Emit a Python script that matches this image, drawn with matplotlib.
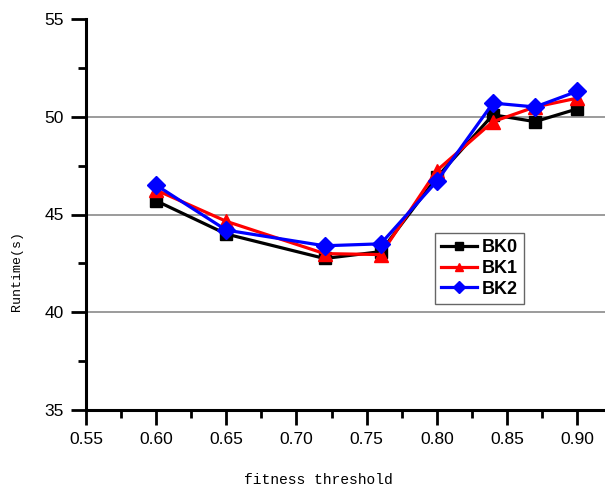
import matplotlib
matplotlib.use("Agg")
import matplotlib.pyplot as plt
from matplotlib.ticker import MultipleLocator, FormatStrFormatter

thresholds = [0.60, 0.65, 0.72, 0.76, 0.80, 0.84, 0.87, 0.90]
bk0 = [45.7, 44.0, 42.75, 43.1, 46.9, 50.1, 49.75, 50.4]
bk1 = [46.25, 44.65, 43.0, 42.95, 47.25, 49.75, 50.5, 50.95]
bk2 = [46.5, 44.2, 43.4, 43.5, 46.7, 50.7, 50.5, 51.3]
series_names = ["BK0", "BK1", "BK2"]

fig = plt.figure(figsize=(6.05, 4.92), dpi=100)
ax = fig.add_axes([86 / 605, 1 - 410 / 492, 1 - 86 / 605, (410 - 19) / 492])

styles = [
    dict(color="black", marker="s", markersize=9),
    dict(color="red", marker="^", markersize=10),
    dict(color="blue", marker="D", markersize=9),
]
for name, vals, st in zip(series_names, [bk0, bk1, bk2], styles):
    ax.plot(thresholds, vals, label=name, linewidth=2.3, **st)

ax.set_xlim(0.55, 0.55 + (605 - 85) / 1406)
ax.set_ylim(35, 55)
ax.xaxis.set_major_locator(MultipleLocator(0.05))
ax.xaxis.set_minor_locator(MultipleLocator(0.025))
ax.xaxis.set_major_formatter(FormatStrFormatter("%.2f"))
ax.yaxis.set_major_locator(MultipleLocator(5))
ax.yaxis.set_minor_locator(MultipleLocator(2.5))

for yv in (40, 45, 50):
    ax.axhline(yv, color="#808080", linewidth=1.1, zorder=0)

for side in ("top", "right"):
    ax.spines[side].set_visible(False)
for side in ("left", "bottom"):
    ax.spines[side].set_linewidth(2.2)

ax.tick_params(which="major", direction="out", length=11, width=2.0,
               labelsize=12.5, pad=5)
ax.tick_params(which="minor", direction="out", length=6, width=2.0)
for lbl in ax.get_xticklabels() + ax.get_yticklabels():
    lbl.set_family("Liberation Sans")

ax.set_xlabel("fitness threshold", family="Liberation Mono", fontsize=10.5)
ax.set_ylabel("Runtime(s)", family="Liberation Mono", fontsize=9.5)
ax.xaxis.set_label_coords(0.447, -0.16)
ax.yaxis.set_label_coords(-0.121, 0.355)

leg = ax.legend(loc="upper left", bbox_to_anchor=((435 - 86) / 519, (410 - 233) / 391),
                prop=dict(family="Liberation Sans", weight="bold", size=13),
                frameon=True, fancybox=False, handlelength=2.0, handletextpad=0.25,
                borderpad=0.35, labelspacing=0.2, borderaxespad=0)
leg.get_frame().set_edgecolor("#404040")
leg.get_frame().set_linewidth(1.0)
for h in leg.legend_handles:
    h.set_markersize(6)

fig.savefig("out.png", dpi=100)
